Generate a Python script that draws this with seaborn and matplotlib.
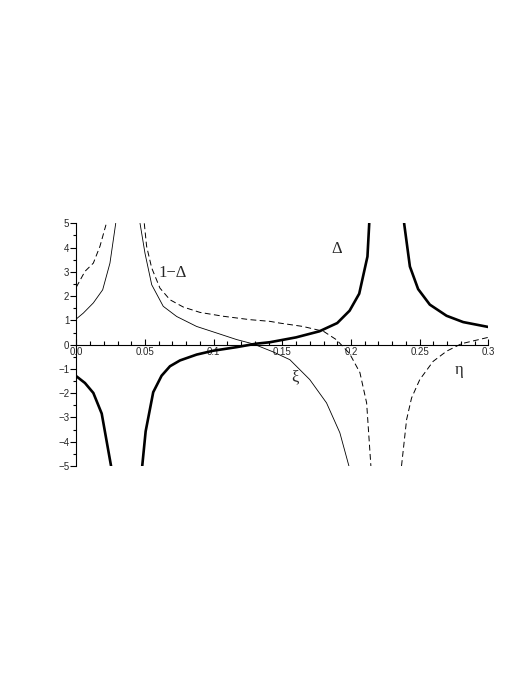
import matplotlib
matplotlib.use("Agg")
import numpy as np
import pandas as pd
import matplotlib.pyplot as plt
import seaborn as sns
from matplotlib.ticker import MultipleLocator

# ---- data ----
# Delta (thick solid), two visible branches
delta_left_x = [0.0, 0.0063, 0.0124, 0.0185, 0.0253]
delta_left_y = [-1.30, -1.58, -1.99, -2.84, -5.0]
delta_mid_x = [0.048, 0.0505, 0.056, 0.0621, 0.0682, 0.0755, 0.0876, 0.0997, 0.117,
               0.131, 0.141, 0.160, 0.177, 0.190, 0.199, 0.206, 0.212, 0.2133]
delta_mid_y = [-5.0, -3.57, -1.96, -1.28, -0.89, -0.65, -0.41, -0.25, -0.10,
               0.04, 0.10, 0.30, 0.55, 0.89, 1.40, 2.10, 3.63, 5.0]
delta_right_x = [0.2387, 0.2429, 0.2489, 0.2574, 0.2696, 0.2817, 0.2999]
delta_right_y = [5.0, 3.22, 2.29, 1.65, 1.19, 0.93, 0.73]

# 1 - Delta (dashed)
omd_left_x = [0.0, 0.0063, 0.0124, 0.0172, 0.0216]
omd_left_y = [2.37, 3.02, 3.36, 4.05, 4.94]
omd_mid_x = [0.0495, 0.0512, 0.0549, 0.0609, 0.0682, 0.0779, 0.090, 0.107, 0.1264,
             0.141, 0.148, 0.165, 0.180, 0.1895, 0.199, 0.2065, 0.2114, 0.2145]
omd_mid_y = [5.0, 4.05, 3.16, 2.33, 1.85, 1.55, 1.33, 1.17, 1.03,
             0.96, 0.89, 0.75, 0.55, 0.20, -0.37, -1.15, -2.40, -5.0]
omd_right_x = [0.2368, 0.2405, 0.2441, 0.2501, 0.2598, 0.2696, 0.2805, 0.2999]
omd_right_y = [-5.0, -3.09, -2.20, -1.44, -0.69, -0.27, 0.04, 0.30]

# xi (thin solid)
xi_left_x = [0.0, 0.0051, 0.0124, 0.0192, 0.0245, 0.0287]
xi_left_y = [1.06, 1.30, 1.72, 2.26, 3.36, 5.0]
xi_right_x = [0.0464, 0.050, 0.0549, 0.0633, 0.0731, 0.0876, 0.1022, 0.1167, 0.1288,
              0.1434, 0.1555, 0.170, 0.1822, 0.1919, 0.1985]
xi_right_y = [5.0, 3.77, 2.47, 1.58, 1.16, 0.75, 0.48, 0.21, 0.03,
              -0.30, -0.62, -1.44, -2.40, -3.63, -5.0]

x_ticks = [0.0, 0.05, 0.1, 0.15, 0.2, 0.25, 0.3]
x_tick_labels = ["0.0", "0.05", "0.1", "0.15", "0.2", "0.25", "0.3"]
y_ticks = [-5, -4, -3, -2, -1, 0, 1, 2, 3, 4, 5]

sns.set_style("white")
plt.rcParams['font.family'] = ['Liberation Sans', 'DejaVu Sans']

fig = plt.figure(figsize=(5.31, 6.88), dpi=100)
ax = fig.add_axes([0.1437, 0.3227, 0.7759, 0.3527])

thick = dict(color="black", lw=1.9, solid_joinstyle="miter")
thin = dict(color="black", lw=0.6)
dashed = dict(color="black", lw=0.7, dashes=(6, 3.5))

for xs, ys in [(delta_left_x, delta_left_y), (delta_mid_x, delta_mid_y),
               (delta_right_x, delta_right_y)]:
    sns.lineplot(x=xs, y=ys, sort=False, estimator=None, ax=ax, **thick)

for xs, ys in [(xi_left_x, xi_left_y), (xi_right_x, xi_right_y)]:
    sns.lineplot(x=xs, y=ys, sort=False, estimator=None, ax=ax, **thin)

for xs, ys in [(omd_left_x, omd_left_y), (omd_mid_x, omd_mid_y),
               (omd_right_x, omd_right_y)]:
    ln = sns.lineplot(x=xs, y=ys, sort=False, estimator=None, ax=ax,
                      color="black", lw=0.7)
    ln.lines[-1].set_dashes((6, 3.5))

ax.set_xlim(0, 0.3)
ax.set_ylim(-5, 5)

# axes crossing at origin
ax.spines['left'].set_position(('data', 0))
ax.spines['bottom'].set_position(('data', 0))
ax.spines['top'].set_visible(False)
ax.spines['right'].set_visible(False)
for s in ['left', 'bottom']:
    ax.spines[s].set_linewidth(0.8)
    ax.spines[s].set_color("black")

ax.set_xticks(x_ticks)
ax.set_xticklabels(x_tick_labels)
ax.set_yticks(y_ticks)
ax.set_yticklabels([str(v).replace("-", "\u2212") for v in y_ticks])
ax.xaxis.set_minor_locator(MultipleLocator(0.01))
ax.yaxis.set_minor_locator(MultipleLocator(0.5))
ax.tick_params(axis='x', which='both', direction='in', bottom=True, pad=2,
               labelsize=7, color="black", width=0.8)
ax.tick_params(axis='x', which='major', length=4)
ax.tick_params(axis='x', which='minor', length=3)
ax.tick_params(axis='y', which='both', direction='out', left=True, pad=1,
               labelsize=7, color="black", width=0.8)
ax.tick_params(axis='y', which='major', length=4)
ax.tick_params(axis='y', which='minor', length=2.5)
ax.set_xlabel("")
ax.set_ylabel("")

# curve labels
lab = dict(fontsize=12, family=['Liberation Serif', 'DejaVu Serif'],
           ha="center", va="center")
ax.text(0.0704, 2.96, "1\u2212\u0394", **lab)
ax.text(0.1897, 3.95, "\u0394", **lab)
ax.text(0.159, -1.36, "\u03be", **lab)
ax.text(0.279, -1.03, "\u03b7", **lab)

fig.savefig("out.png", dpi=100)
